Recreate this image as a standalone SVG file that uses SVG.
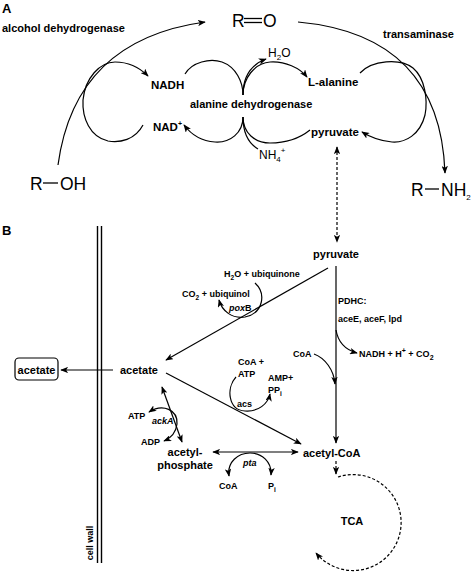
<svg xmlns="http://www.w3.org/2000/svg" width="472" height="574" viewBox="0 0 472 574">
<style>
text{font-family:"Liberation Sans",Arial,sans-serif;fill:#000}
.b{font-weight:bold}
.lb{font-weight:bold;font-size:11px}
.cp{font-weight:bold;font-size:11.5px}
.sm{font-weight:bold;font-size:9px}
.big{font-size:17.5px}
.reg{font-size:12px}
.it{font-style:italic}
.ln{fill:none;stroke:#000;stroke-width:1.2}
.ar{marker-end:url(#ah)}
.ar2{marker-start:url(#ahs);marker-end:url(#ah)}
.ds{stroke-dasharray:3 2}
</style>
<defs>
<marker id="ah" viewBox="0 0 10 8" refX="9" refY="4" markerWidth="8" markerHeight="6.4" markerUnits="userSpaceOnUse" orient="auto"><path d="M0,0 L10,4 L0,8 L2.5,4 z" fill="#000"/></marker>
<marker id="ahs" viewBox="0 0 10 8" refX="9" refY="4" markerWidth="8" markerHeight="6.4" markerUnits="userSpaceOnUse" orient="auto-start-reverse"><path d="M0,0 L10,4 L0,8 L2.5,4 z" fill="#000"/></marker>
</defs>

<!-- Panel A labels -->
<text class="b" x="2" y="13" font-size="13">A</text>
<text class="lb" x="2" y="32">alcohol dehydrogenase</text>
<text class="lb" x="383" y="38">transaminase</text>
<text class="lb" x="190" y="108">alanine dehydrogenase</text>

<g id="RdO">
<text class="big" x="232" y="27">R</text>
<line x1="244" y1="18.5" x2="262" y2="18.5" stroke="#000" stroke-width="1.3"/>
<line x1="244" y1="22.5" x2="262" y2="22.5" stroke="#000" stroke-width="1.3"/>
<text class="big" x="263" y="27">O</text>
</g>
<g id="ROH">
<text class="big" x="30" y="190">R</text>
<line x1="43" y1="183" x2="58" y2="183" stroke="#000" stroke-width="1.3"/>
<text class="big" x="60" y="190">OH</text>
</g>
<g id="RNH2">
<text class="big" x="411" y="196">R</text>
<line x1="425" y1="189" x2="439" y2="189" stroke="#000" stroke-width="1.3"/>
<text class="big" x="441" y="196">NH<tspan font-size="8" dy="4">2</tspan></text>
</g>
<g id="NADH"><text class="cp" x="151" y="89">NADH</text></g>
<g id="NADp"><text class="cp" x="153" y="131">NAD<tspan font-size="7" dy="-5">+</tspan></text></g>
<g id="H2O"><text class="reg" x="268" y="57">H<tspan font-size="8" dy="3">2</tspan><tspan dy="-3">O</tspan></text></g>
<g id="NH4"><text class="reg" x="259" y="159">NH<tspan font-size="8" dy="3">4</tspan><tspan font-size="8" dy="-9">+</tspan></text></g>
<g id="Lala"><text class="cp" x="308" y="86">L-alanine</text></g>
<g id="pyrA"><text class="cp" x="311" y="136">pyruvate</text></g>

<!-- Panel B -->
<text class="b" x="2" y="235" font-size="13">B</text>
<g id="cellwall">
<line x1="97.5" y1="226" x2="97.5" y2="563" stroke="#000" stroke-width="1.4"/>
<line x1="101.5" y1="226" x2="101.5" y2="563" stroke="#000" stroke-width="1.4"/>
<text class="sm" transform="translate(93,543) rotate(-90)" text-anchor="middle">cell wall</text>
</g>
<g id="pyrB"><text class="lb" x="336" y="258" text-anchor="middle">pyruvate</text></g>
<g id="acetateOut">
<rect x="15" y="358" width="43" height="22" rx="4" fill="none" stroke="#000" stroke-width="1.2"/>
<text class="lb" x="36.5" y="373.5" text-anchor="middle">acetate</text>
</g>
<g id="acetate"><text class="lb" x="120" y="374">acetate</text></g>
<g id="acetylP">
<text class="lb" x="185" y="456" text-anchor="middle">acetyl-</text>
<text class="lb" x="185" y="469" text-anchor="middle">phosphate</text>
</g>
<g id="acetylCoA"><text class="lb" x="303" y="457">acetyl-CoA</text></g>
<g id="TCA"><text class="lb" x="352" y="525" text-anchor="middle" font-size="12">TCA</text></g>
<g id="PDHC">
<text class="sm" x="338" y="304">PDHC:</text>
<text class="sm" x="338" y="322">aceE, aceF, lpd</text>
<text class="sm" x="359" y="357" font-size="10">NADH + H<tspan font-size="7" dy="-4">+</tspan><tspan dy="4">  + CO</tspan><tspan font-size="7" dy="3">2</tspan></text>
<text class="sm" x="293" y="357" font-size="9.5">CoA</text>
</g>
<g id="poxB">
<text class="sm" x="224" y="277">H<tspan font-size="6.5" dy="2.5">2</tspan><tspan dy="-2.5">O + ubiquinone</tspan></text>
<text class="sm" x="182" y="297">CO<tspan font-size="6.5" dy="2.5">2</tspan><tspan dy="-2.5"> + ubiquinol</tspan></text>
<text class="sm" x="229" y="311"><tspan class="it">pox</tspan>B</text>
</g>
<g id="acs">
<text class="sm" x="238" y="365">CoA +</text>
<text class="sm" x="238" y="377">ATP</text>
<text class="sm" x="268" y="381">AMP+</text>
<text class="sm" x="268" y="393">PP<tspan font-size="6.5" dy="2.5">i</tspan></text>
<text class="sm" x="237" y="407" font-weight="normal">acs</text>
</g>
<g id="ackA">
<text class="sm" x="128" y="419">ATP</text>
<text class="sm it" x="152" y="424">ackA</text>
<text class="sm" x="141" y="445">ADP</text>
</g>
<g id="pta">
<text class="sm it" x="243" y="466">pta</text>
<text class="sm" x="219" y="489">CoA</text>
<text class="sm" x="268" y="489">P<tspan font-size="6.5" dy="2.5">i</tspan></text>
</g>

<g id="connectors">
<!-- Panel A -->
<path class="ln ar" d="M58,165 Q75,40 205,22"/>
<path class="ln ar" d="M298,22 Q440,35 445,173"/>
<path class="ln ar" d="M143,125 C135,140 120,143 108,141 C90,137 82,118 83,100 C85,78 100,62 115,62 C128,62 140,68 148,76"/>
<path class="ln" d="M185,74 C192,62 210,58 222,62 C236,67 243,82 243,95"/>
<path class="ln ar" d="M243,117 C243,133 230,143 215,142 C200,141 190,133 184,125"/>
<path class="ln ar" d="M243,95 C243,78 255,63 270,62 C285,61 300,68 307,77"/>
<path class="ln" d="M243,117 C243,133 255,143 270,143 C285,143 300,138 310,130"/>
<path class="ln ar" d="M243,95 C243,78 250,65 266,59"/>
<path class="ln" d="M243,117 C243,132 248,143 258,149"/>
<path class="ln ar" d="M360,73 C372,60 400,58 413,68 C425,78 428,100 425,115 C420,135 405,143 392,142 C380,141 370,137 362,132"/>
<path class="ln ar2 ds" d="M337,147 L337,242"/>
<!-- Panel B -->
<path class="ln ar" d="M328,268 L166,360"/>
<path class="ln ar" d="M336,266 L336,443"/>
<path class="ln ar" d="M166,373 L301,444"/>
<path class="ln ar" d="M113,370 L61,370"/>
<path class="ln ar2" d="M213,452 L298,452"/>
<path class="ln ar2" d="M162,387 L182,442"/>
<path class="ln ar" d="M336,330 C338,342 346,350 357,353"/>
<path class="ln ar" d="M314,354 C325,358 334,370 335,384"/>
<path class="ln ar" d="M255,283 C266,293 264,313 245,317 C232,319 222,311 219,300"/>
<path class="ln ar" d="M236,377 C226,388 228,410 245,411 C258,412 268,404 270,394"/>
<path class="ln ar2" d="M149,412 C163,403 178,410 177,424 C176,432 171,438 164,441"/>
<path class="ln ar2" d="M229,476 C227,462 238,453 250,453 C262,453 272,462 271,475"/>
<path class="ln ar ds" d="M336,461 L336,474"/>
<path class="ln ar ds" d="M338,477 A48,48 0 1 1 316,553"/>
</g>
</svg>
